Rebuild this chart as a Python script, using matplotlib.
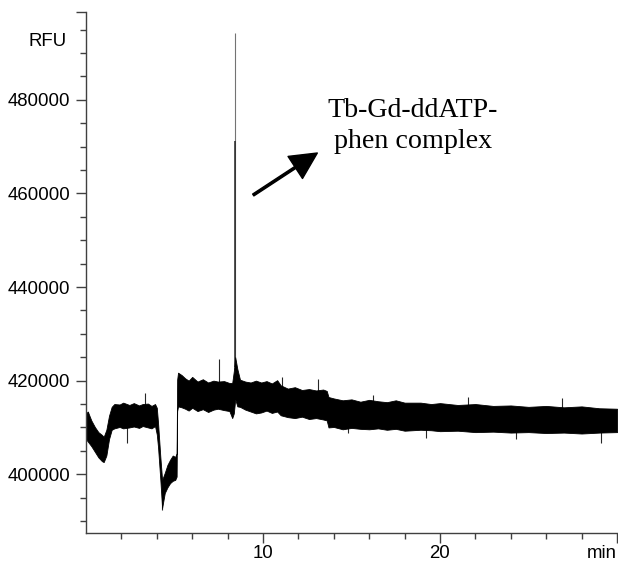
import matplotlib
matplotlib.use("Agg")
import matplotlib.pyplot as plt

# trace envelope (time in min, RFU)
time_min = [0.0, 0.1, 0.3, 0.5, 0.7, 0.9, 1.0, 1.15, 1.3, 1.45, 1.6,
            1.9, 2.1, 2.45, 2.7, 3.0, 3.2, 3.5, 3.7, 3.9, 4.0, 4.07,
            4.2, 4.3, 4.45, 4.6, 4.75, 4.9, 5.04, 5.12, 5.15, 5.2,
            5.4, 5.6, 5.8, 6.0, 6.3, 6.6, 6.9, 7.2, 7.45, 7.8, 8.1,
            8.26, 8.35, 8.43, 8.55, 8.7, 9.0, 9.3, 9.6, 9.9, 10.2,
            10.5, 10.8, 11.0, 11.4, 11.8, 12.2, 12.6, 13.0, 13.4, 13.6,
            13.7, 14.0, 14.5, 15.0, 15.5, 16.0, 16.5, 17.0, 17.5, 18.0,
            18.9, 19.5, 20.0, 21.0, 22.0, 23.0, 24.0, 25.0, 26.0, 27.0,
            28.0, 29.0, 30.0]
rfu_upper = [413000, 413400, 411500, 410100, 409000, 408400, 408000, 409500, 412500, 414400, 415000,
             414900, 415300, 414800, 415200, 414700, 415000, 415100, 414600, 415000, 414200, 411000,
             403700, 398800, 400300, 402000, 403100, 404000, 403700, 404500, 420200, 421700,
             421200, 420500, 420000, 420800, 419800, 420300, 419600, 420000, 419800, 419900, 419500,
             419500, 422000, 425000, 422500, 420200, 419800, 419600, 420000, 419600, 419900,
             419400, 420100, 419000, 418300, 418600, 418000, 418200, 417900, 418100, 417800,
             416500, 416200, 415800, 416000, 415500, 415900, 415600, 415400, 415800, 415300,
             415300, 415000, 415200, 414800, 415000, 414600, 414700, 414400, 414600, 414300,
             414500, 414100, 414000]
rfu_lower = [407500, 407000, 406000, 404800, 403600, 402800, 402600, 404000, 407500, 409500, 409800,
             410100, 409800, 410000, 410200, 409900, 410300, 410000, 409800, 410300, 408500, 405800,
             398800, 392800, 396000, 397200, 398100, 398600, 398800, 399500, 413500, 414500,
             414300, 414000, 413600, 414200, 413500, 413900, 413300, 413800, 414000, 413700, 413500,
             412000, 413000, 416000, 414500, 414400, 413800, 413400, 413000, 413200, 413600,
             413100, 413400, 412600, 412200, 412000, 412300, 411800, 412000, 411700, 411500,
             410000, 410100, 409600, 409900, 409700, 409600, 409800, 409500, 409700, 409300,
             409500, 409400, 409200, 409300, 409000, 409100, 408900, 409000, 408800, 408900,
             408700, 408900, 409000]

# isolated noise spikes sticking out of the band
spike_time = [0.1, 2.3, 3.34, 4.3, 7.5, 11.07, 13.1, 14.8, 16.2, 19.2, 21.6, 24.3, 26.9, 29.1]
spike_base = [410000, 412500, 412500, 396000, 417000, 416000, 415000, 413000, 412500, 412300, 412000, 411800, 411600, 411500]
spike_tip = [413400, 406700, 417400, 392400, 424700, 420850, 420350, 408800, 417000, 407800, 416600, 407600, 416200, 406700]

# main peak
peak_time = 8.43
peak_base = 423000
peak_mid = 471200
peak_top = 494260

y_major = [400000, 420000, 440000, 460000, 480000]
x_major = [10, 20, 30]
x_labels = ["10", "20", "min"]

plt.rcParams["font.family"] = ["Liberation Sans", "DejaVu Sans"]

fig = plt.figure(figsize=(6.18, 5.64), dpi=100)
ax = fig.add_axes([86 / 618, 31 / 564, 531 / 618, 521 / 564])

# spikes underneath so the band hides their inner part
ax.vlines(spike_time, spike_base, spike_tip, color="0.15", lw=0.8, zorder=1)
ax.vlines(peak_time, peak_base, peak_top, color="0.45", lw=0.8, zorder=1)
ax.vlines(peak_time, peak_base, peak_mid, color="0.15", lw=1.1, zorder=1)
ax.fill_between(time_min, rfu_lower, rfu_upper, color="black", lw=0.6, zorder=2)

ax.set_xlim(0, 30)
ax.set_ylim(387450, 498750)

for side in ["top", "right"]:
    ax.spines[side].set_visible(False)
ax.spines["left"].set_linewidth(1.0)
ax.spines["bottom"].set_linewidth(1.0)
ax.spines["left"].set_color("0.25")
ax.spines["bottom"].set_color("0.25")

ax.set_yticks(y_major + [498750], [f"{v}" for v in y_major] + [""])
ax.set_yticks([v for v in range(390000, 500000, 5000) if v % 20000 != 0], minor=True)
ax.set_xticks(x_major, x_labels)
ax.set_xticks([v for v in range(2, 30, 2) if v % 10 != 0], minor=True)
ax.get_xticklabels()[2].set_horizontalalignment("right")

ax.tick_params(axis="both", which="major", length=7.2, width=1.0, color="0.25",
               labelsize=13.4)
ax.tick_params(axis="both", which="minor", length=4.0, width=1.0, color="0.25")
ax.tick_params(axis="y", which="major", pad=4)
ax.tick_params(axis="x", which="major", pad=1.5)

fig.text(67 / 618, 1 - 42 / 564, "RFU", ha="right", va="center", fontsize=13.4)

ax.annotate("", xy=(13.07, 468630), xytext=(9.45, 459660),
            arrowprops=dict(width=1.6, headwidth=19, headlength=19,
                            facecolor="black", edgecolor="black", shrink=0))
ax.text(18.45, 474400, "Tb-Gd-ddATP-\nphen complex", ha="center", va="center",
        fontsize=20.2, family=["Liberation Serif", "DejaVu Serif"], linespacing=1.3)

fig.savefig("out.png", dpi=100)
